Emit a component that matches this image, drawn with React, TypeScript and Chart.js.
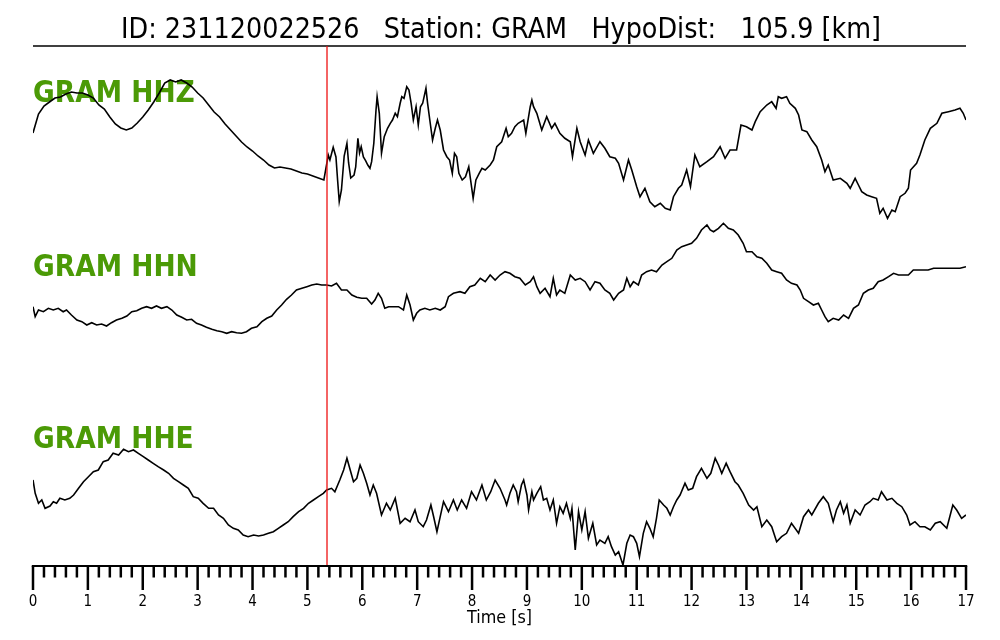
import React, { useEffect, useRef } from "react";
import { Chart, registerables } from "chart.js";

Chart.register(...registerables);

// ---------- text ----------
const TITLE = "ID: 231120022526   Station: GRAM   HypoDist:   105.9 [km]";
const X_LABEL = "Time [s]";
const CHANNELS = ["GRAM HHZ", "GRAM HHN", "GRAM HHE"];

// ---------- axis ----------
const T_MIN = 0;
const T_MAX = 17;
const MAJOR_TICKS = [0, 1, 2, 3, 4, 5, 6, 7, 8, 9, 10, 11, 12, 13, 14, 15, 16, 17];
const MINOR_STEP = 0.2;
const PICK_TIME = 5.357; // P pick (s)

// ---------- traces: [time (s), amplitude (counts)] ----------
const HHZ: [number, number][] = [
  [0, 17], [0.1, 36], [0.2, 44], [0.3, 48], [0.4, 52], [0.5, 53], [0.6, 56], [0.7, 58], [0.8, 57], [0.9, 57],
  [1.0, 55], [1.1, 52], [1.2, 45], [1.3, 41], [1.4, 33], [1.5, 26], [1.6, 22], [1.7, 20], [1.8, 22], [1.9, 27],
  [2.0, 33], [2.1, 40], [2.2, 48], [2.3, 57], [2.4, 67], [2.5, 70], [2.6, 68], [2.7, 70], [2.8, 67], [2.9, 63],
  [3.0, 57], [3.1, 52], [3.2, 45], [3.3, 38], [3.4, 33], [3.5, 26], [3.6, 20], [3.7, 14], [3.8, 8], [3.9, 3],
  [4.0, -1], [4.1, -6], [4.2, -10], [4.3, -15], [4.4, -18], [4.5, -17], [4.6, -18], [4.7, -19], [4.8, -21], [4.9, -23],
  [5.0, -24], [5.1, -26], [5.2, -28], [5.3, -30],
  [5.38, -5], [5.41, -10], [5.47, 2.7], [5.52, -7], [5.55, -30], [5.58, -51.7], [5.62, -40], [5.67, -6], [5.72, 6.7], [5.75, -12.7],
  [5.79, -28], [5.85, -25], [5.88, -17], [5.92, 11.7], [5.95, -3], [5.98, 3.3], [6.02, -7], [6.06, -10.7], [6.1, -15], [6.14, -18.3],
  [6.17, -11.7], [6.21, 6.7], [6.25, 40], [6.27, 53.3], [6.31, 36.7], [6.35, -3.3], [6.4, 13.3], [6.46, 21.7], [6.51, 26.7], [6.55, 30],
  [6.6, 36.7], [6.64, 33.3], [6.69, 46.7], [6.72, 53.3], [6.76, 51.7], [6.81, 63.3], [6.85, 60], [6.89, 46.7], [6.93, 30], [6.98, 43.3],
  [7.02, 25], [7.06, 43.3], [7.1, 46.7], [7.16, 61.7], [7.19, 46.7], [7.23, 30], [7.28, 10], [7.33, 21.7], [7.37, 30], [7.42, 20],
  [7.48, 0], [7.54, -6.7], [7.59, -10], [7.64, -23.3], [7.68, -3.3], [7.72, -6.7], [7.76, -23.3], [7.82, -30], [7.88, -26.7], [7.94, -16.7],
  [8.02, -48.3], [8.07, -30], [8.13, -23.3], [8.18, -18.3], [8.24, -20], [8.33, -15], [8.39, -10], [8.45, 3.3], [8.54, 8.3], [8.62, 21.7],
  [8.66, 13.3], [8.72, 16.7], [8.78, 23.3], [8.84, 26.7],
  [8.94, 30], [8.98, 16.7], [9.06, 43.3], [9.09, 50], [9.12, 43.3], [9.18, 36.7], [9.27, 20], [9.36, 33.3], [9.45, 21.7], [9.51, 26.7],
  [9.6, 16.7], [9.69, 11.7], [9.79, 8.3], [9.83, -6.7], [9.91, 21.7], [9.97, 8.3], [10.06, -5], [10.12, 10], [10.21, -3.3], [10.33, 8.3],
  [10.42, 1.7], [10.51, -6.7], [10.61, -8.3], [10.67, -13.3], [10.76, -30], [10.85, -10], [10.91, -20], [11.0, -36.7], [11.06, -46.7], [11.15, -38.3],
  [11.24, -51.7], [11.33, -56.7], [11.43, -53.3], [11.52, -58.3], [11.61, -60], [11.67, -46.7], [11.76, -38.3], [11.82, -35], [11.91, -20], [11.98, -36.7],
  [12.06, -5], [12.15, -16.7], [12.28, -11.7], [12.4, -6.7], [12.52, 3.3], [12.61, -8.3], [12.7, 0], [12.82, 0], [12.9, 25], [13.0, 23.3],
  [13.1, 20], [13.16, 28.3], [13.25, 38.3], [13.37, 45], [13.46, 48.3], [13.54, 41.7], [13.58, 53.3], [13.64, 51.7], [13.73, 53.3], [13.79, 46.7],
  [13.89, 41.7], [13.95, 35], [14.01, 20], [14.1, 18.3], [14.19, 10], [14.28, 3.3], [14.37, -10], [14.43, -21.7], [14.49, -15], [14.58, -30],
  [14.71, -28.3], [14.83, -33.3], [14.89, -38.3], [14.98, -28.3], [15.04, -35], [15.1, -41.7], [15.19, -45], [15.28, -46.7], [15.37, -48.3], [15.43, -63.3],
  [15.49, -58.3], [15.57, -68.3], [15.65, -60], [15.71, -61.7], [15.8, -46.7], [15.89, -43.3], [15.95, -38.3], [15.99, -20], [16.1, -13.3], [16.16, -5],
  [16.25, 10], [16.35, 21.7], [16.47, 26.7], [16.56, 36.7], [16.68, 38.3], [16.8, 40], [16.89, 41.7], [16.95, 36.7], [17.0, 30],
];

const HHN: [number, number][] = [
  [0, -16.7], [0.04, -26.7], [0.1, -20], [0.19, -21.7], [0.28, -18.3], [0.37, -20], [0.46, -18.3], [0.55, -21.7], [0.61, -20], [0.7, -25],
  [0.8, -30], [0.89, -31.7], [0.98, -35], [1.07, -32.7], [1.16, -35], [1.25, -34], [1.34, -36], [1.43, -32.7], [1.52, -30], [1.62, -28.3],
  [1.71, -26], [1.8, -21.7], [1.89, -20.7], [1.98, -18.3], [2.07, -16.7], [2.16, -18.3], [2.25, -16], [2.34, -18.3], [2.44, -16.7], [2.53, -20],
  [2.62, -25], [2.71, -27.3], [2.8, -30], [2.89, -29.3], [2.98, -33.3], [3.07, -35], [3.16, -37.3], [3.26, -39.3], [3.35, -40.7], [3.44, -41.7],
  [3.53, -43.3], [3.62, -41.7], [3.71, -42.7], [3.8, -43.3], [3.89, -41.7], [3.98, -38.3], [4.08, -36.7], [4.17, -31.7], [4.26, -28.3], [4.35, -26],
  [4.44, -20], [4.53, -15], [4.62, -9.3], [4.71, -5], [4.8, 0], [4.9, 1.7], [4.99, 3.3], [5.08, 5], [5.17, 6], [5.26, 5],
  [5.35, 5], [5.44, 4], [5.53, 6.7], [5.62, 0], [5.72, 0], [5.81, -5], [5.9, -7.3], [5.99, -8.3], [6.08, -8.3], [6.17, -14],
  [6.23, -10], [6.29, -3.3], [6.35, -8.3], [6.41, -18.3], [6.48, -16.7], [6.57, -16.7], [6.66, -16.7], [6.75, -20], [6.81, -5], [6.87, -15],
  [6.93, -30], [6.99, -23.3], [7.05, -20], [7.14, -18.3], [7.23, -20], [7.33, -18.3], [7.42, -20], [7.51, -16.7], [7.57, -6.7], [7.66, -3.3],
  [7.78, -1.7], [7.87, -3.3], [7.96, 3.3], [8.05, 5], [8.15, 11.7], [8.24, 8.3], [8.33, 15], [8.42, 10], [8.51, 15],
  [8.6, 18.3], [8.69, 16.7], [8.78, 13.3], [8.87, 11.7], [8.97, 5], [9.06, 8.3], [9.12, 13.3], [9.18, 3.3], [9.24, -3.3], [9.33, 1.7],
  [9.42, -6.7], [9.48, 11.7], [9.54, -5], [9.6, 0], [9.69, -3.3], [9.79, 15], [9.88, 10], [9.97, 11.7], [10.06, 8.3], [10.15, 0],
  [10.24, 8.3], [10.33, 6.7], [10.42, 0], [10.51, -3.3], [10.58, -10], [10.67, -3.3], [10.76, 0], [10.82, 11.7], [10.88, 3.3], [10.94, 8.3],
  [11.03, 5], [11.09, 15], [11.18, 18.3], [11.27, 20], [11.36, 18.3], [11.46, 25], [11.55, 28.3], [11.64, 31.7], [11.73, 40], [11.82, 43.3],
  [11.91, 45], [12.0, 46.7], [12.09, 51.7], [12.18, 60], [12.28, 65], [12.34, 60], [12.4, 58.3], [12.49, 61.7], [12.58, 66.7], [12.67, 61.7],
  [12.76, 60], [12.85, 55], [12.94, 46.7], [13.0, 38.3], [13.1, 38.3], [13.19, 33.3], [13.28, 31.7], [13.37, 26.7], [13.46, 20], [13.55, 18.3],
  [13.64, 16.7], [13.73, 10], [13.82, 6.7], [13.92, 5], [13.98, 0], [14.04, -8.3], [14.13, -11.7], [14.22, -15], [14.31, -13.3], [14.37, -20],
  [14.43, -26.7], [14.49, -31.7], [14.58, -28.3], [14.68, -30], [14.77, -25], [14.86, -28.3], [14.95, -18.3], [15.04, -15], [15.13, -3.3], [15.22, 0],
  [15.31, 1.7], [15.4, 8.3], [15.49, 10], [15.59, 13.3], [15.68, 16.7], [15.77, 15], [15.86, 15], [15.95, 15], [16.04, 20], [16.13, 20],
  [16.22, 20], [16.31, 20], [16.41, 21.7], [16.53, 21.7], [16.65, 21.7], [16.77, 21.7], [16.89, 21.7], [17.0, 23.3],
];

const HHE: [number, number][] = [
  [0, 20], [0.04, 6.7], [0.1, -3.3], [0.16, 0], [0.22, -8.3], [0.31, -6], [0.37, -1.7], [0.43, -3.3], [0.49, 1.7], [0.58, 0],
  [0.67, 1.7], [0.74, 5], [0.83, 11.7], [0.92, 18.3], [1.01, 23.3], [1.1, 28.3], [1.19, 30], [1.28, 38.3], [1.37, 40], [1.46, 46.7],
  [1.56, 45], [1.65, 50.7], [1.74, 48.3], [1.83, 50], [1.92, 46.7], [2.01, 43.3], [2.1, 40], [2.19, 36.7], [2.28, 33.3], [2.38, 30],
  [2.47, 26.7], [2.56, 21.7], [2.65, 18.3], [2.74, 15], [2.83, 11.7], [2.92, 3.3], [3.01, 1.7], [3.1, -3.3], [3.2, -8.3], [3.29, -8.3],
  [3.38, -15], [3.47, -18.3], [3.56, -25], [3.65, -28.3], [3.74, -30], [3.83, -35], [3.92, -36.7], [4.02, -35], [4.11, -36], [4.2, -35],
  [4.29, -33.3], [4.38, -31.7], [4.47, -28.3], [4.56, -25], [4.65, -21.7], [4.74, -16.7], [4.84, -11.7], [4.93, -8.3], [5.02, -3.3], [5.11, 0],
  [5.2, 3.3], [5.29, 6.7], [5.35, 10], [5.44, 11.7], [5.5, 8.3], [5.59, 20], [5.66, 30], [5.72, 41.7], [5.78, 30], [5.84, 18.3],
  [5.9, 21.7], [5.96, 35], [6.02, 26.7], [6.08, 16.7], [6.14, 5], [6.2, 15], [6.26, 6.7], [6.35, -15], [6.44, -3.3], [6.51, -10],
  [6.6, 1.7], [6.69, -23.3], [6.78, -18.3], [6.87, -21.7], [6.96, -10], [7.02, -21.7], [7.11, -26.7], [7.17, -20], [7.25, -5], [7.3, -16.7],
  [7.36, -31.7], [7.42, -16.7], [7.48, -1.7], [7.57, -11.7], [7.66, 0], [7.73, -10], [7.81, 0], [7.9, -8.3], [7.99, 8.3], [8.08, 0],
  [8.18, 15], [8.26, 0], [8.34, 8.3], [8.42, 20], [8.51, 11.7],
  [8.6, 0], [8.63, -5], [8.69, 6.7], [8.75, 15], [8.81, 8.3], [8.84, -1.7], [8.9, 15], [8.94, 20], [9.0, 5], [9.03, -10],
  [9.09, 8.3], [9.12, 0], [9.18, 6.7], [9.25, 13.3], [9.3, 0], [9.36, 1.7], [9.42, -10], [9.48, 0], [9.54, -23.3], [9.6, -6.7],
  [9.66, -13.3], [9.72, -3.3], [9.79, -18.3], [9.82, -8.3], [9.88, -50], [9.94, -11.7], [10.0, -30], [10.06, -11.7], [10.12, -38.3], [10.2, -23.3],
  [10.27, -45], [10.33, -40], [10.42, -43.3], [10.48, -36.7], [10.54, -46.7], [10.61, -55], [10.67, -51.7], [10.75, -65], [10.82, -43.3], [10.88, -35],
  [10.94, -36.7], [11.0, -43.3], [11.05, -56.7], [11.12, -33.3], [11.18, -21.7], [11.24, -28.3], [11.3, -36.7], [11.36, -18.3], [11.41, 0], [11.49, -5],
  [11.55, -8.3], [11.61, -15], [11.67, -6.7], [11.73, 0], [11.79, 5], [11.88, 16.7], [11.94, 10], [12.02, 11.7], [12.09, 23.3], [12.18, 31.7],
  [12.28, 21.7], [12.35, 26.7], [12.43, 41.7], [12.49, 35], [12.55, 26.7], [12.63, 36.7], [12.7, 28.3], [12.79, 18.3], [12.85, 15], [12.94, 6.7],
  [13.04, -5], [13.13, -10], [13.19, -6.7], [13.28, -26.7], [13.37, -20], [13.46, -26.7], [13.55, -41.7], [13.64, -36.7], [13.73, -33.3], [13.82, -23.3],
  [13.95, -33.3], [14.04, -16.7], [14.13, -10], [14.19, -15], [14.31, -3.3], [14.4, 3.3], [14.49, -3.3], [14.58, -21.7], [14.64, -10], [14.71, -1.7],
  [14.77, -13.3], [14.83, -5], [14.89, -23.3], [14.98, -10], [15.07, -15], [15.16, -5], [15.25, -1.7], [15.31, 1.7], [15.4, 0], [15.46, 8.3],
  [15.56, 0], [15.65, 1.7], [15.74, -3.3], [15.83, -6.7], [15.92, -15], [15.98, -25], [16.07, -21.7], [16.16, -26.7], [16.25, -26.7], [16.35, -30],
  [16.44, -23.3], [16.53, -21.7], [16.65, -28.3], [16.76, -5], [16.83, -10], [16.92, -18.3], [17.0, -15],
];

const TRACES = [HHZ, HHN, HHE];

// ---------- layout / style (not data) ----------
const Y_RANGE = 520;
const TRACE_OFFSETS = [416, 276, 66];
const LABEL_BASELINES = [56, 229.5, 402]; // below plot top
const V_STRETCH = 1.14;
const GREEN = "#4b9a06";
const FONT = "'DejaVu Sans', 'Liberation Sans', sans-serif";

function stretchedText(
  ctx: CanvasRenderingContext2D,
  text: string,
  x: number,
  y: number,
  align: CanvasTextAlign
) {
  ctx.save();
  ctx.translate(x, y);
  ctx.scale(1, V_STRETCH);
  ctx.textAlign = align;
  ctx.textBaseline = "alphabetic";
  ctx.fillText(text, 0, 0);
  ctx.restore();
}

const decorPlugin = {
  id: "seismoDecor",
  beforeDatasetsDraw(chart: any) {
    const { ctx, chartArea } = chart;
    const { left, right, top } = chartArea;
    ctx.save();
    ctx.fillStyle = "#000";
    ctx.font = `25.5px ${FONT}`;
    stretchedText(ctx, TITLE, (left + right) / 2 + 1.5, 37.5, "center");

    ctx.strokeStyle = "#000";
    ctx.lineWidth = 1.5;
    ctx.beginPath();
    ctx.moveTo(left, top);
    ctx.lineTo(right, top);
    ctx.stroke();

    ctx.fillStyle = GREEN;
    ctx.font = `bold 26.5px ${FONT}`;
    CHANNELS.forEach((c, i) => stretchedText(ctx, c, left, top + LABEL_BASELINES[i], "left"));
    ctx.restore();
  },
  afterDatasetsDraw(chart: any) {
    const { ctx, chartArea, scales } = chart;
    const { left, right, top, bottom } = chartArea;
    const xs = scales.x;
    ctx.save();

    // pick line
    const px = xs.getPixelForValue(PICK_TIME);
    ctx.strokeStyle = "#ee1111";
    ctx.lineWidth = 1.3;
    ctx.beginPath();
    ctx.moveTo(px, top);
    ctx.lineTo(px, bottom);
    ctx.stroke();

    // bottom axis
    ctx.strokeStyle = "#000";
    ctx.lineWidth = 2;
    ctx.beginPath();
    ctx.moveTo(left - 1.2, bottom);
    ctx.lineTo(right + 1.2, bottom);
    ctx.stroke();

    ctx.lineWidth = 2.5;
    ctx.beginPath();
    for (let t = T_MIN; t <= T_MAX + 1e-9; t += MINOR_STEP) {
      const x = xs.getPixelForValue(t);
      ctx.moveTo(x, bottom);
      ctx.lineTo(x, bottom + 11.5);
    }
    MAJOR_TICKS.forEach((t) => {
      const x = xs.getPixelForValue(t);
      ctx.moveTo(x, bottom);
      ctx.lineTo(x, bottom + 24);
    });
    ctx.stroke();

    ctx.fillStyle = "#000";
    ctx.font = `13.5px ${FONT}`;
    MAJOR_TICKS.forEach((t) => {
      stretchedText(ctx, String(t), xs.getPixelForValue(t), bottom + 40, "center");
    });

    ctx.font = `16px ${FONT}`;
    stretchedText(ctx, X_LABEL, (left + right) / 2, bottom + 57, "center");
    ctx.restore();
  },
};

export default function App() {
  const ref = useRef<HTMLCanvasElement | null>(null);

  useEffect(() => {
    if (!ref.current) return;
    const chart = new Chart(ref.current, {
      type: "line",
      data: {
        datasets: TRACES.map((tr, i) => ({
          label: CHANNELS[i],
          data: tr.map(([t, a]) => ({ x: t, y: a + TRACE_OFFSETS[i] })),
          borderColor: "#000",
          borderWidth: 1.6,
          pointRadius: 0,
          tension: 0,
          fill: false,
        })),
      },
      options: {
        responsive: false,
        maintainAspectRatio: false,
        devicePixelRatio: 1,
        animation: false,
        events: [],
        layout: { padding: { left: 33, right: 34, top: 46, bottom: 74 } },
        scales: {
          x: { type: "linear", min: T_MIN, max: T_MAX, display: false },
          y: { type: "linear", min: 0, max: Y_RANGE, display: false },
        },
        plugins: {
          legend: { display: false },
          tooltip: { enabled: false },
          title: { display: false },
        },
      },
      plugins: [decorPlugin],
    });
    return () => chart.destroy();
  }, []);

  return (
    <canvas
      ref={ref}
      width={1000}
      height={640}
      style={{ position: "absolute", left: 0, top: 0, width: 1000, height: 640, display: "block" }}
    />
  );
}
